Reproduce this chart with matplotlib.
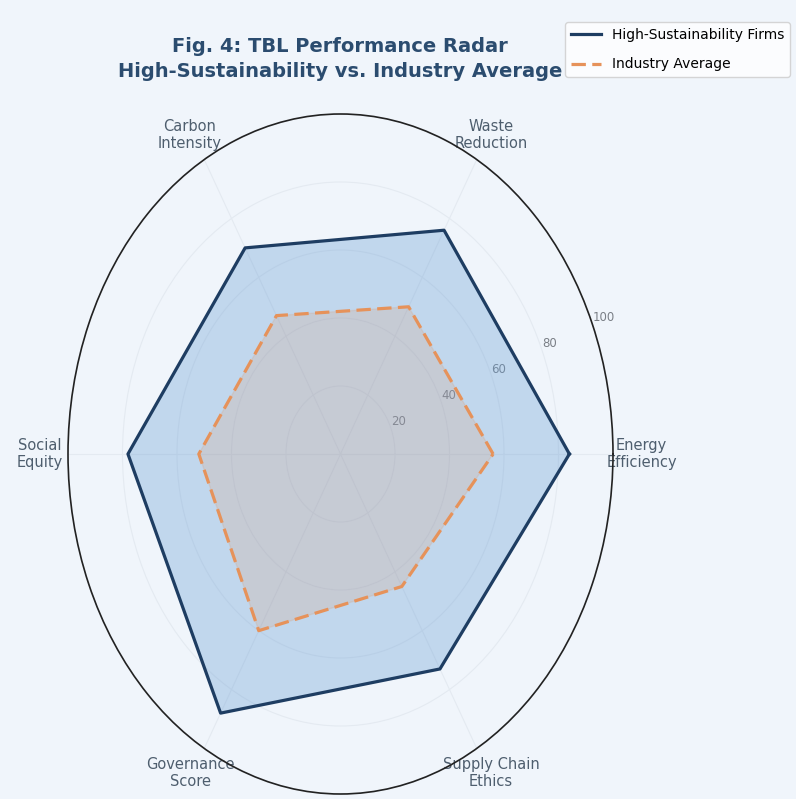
import numpy as np
import matplotlib.pyplot as plt

# Radar data
categories = ['Energy\nEfficiency', 'Waste\nReduction', 'Carbon\nIntensity',
              'Social\nEquity', 'Governance\nScore', 'Supply Chain\nEthics']
high_sustain = [84, 76, 70, 78, 88, 73]
industry_avg = [56, 50, 47, 52, 60, 45]
r_ticks = [20, 40, 60, 80, 100]
series_names = ['High-Sustainability Firms', 'Industry Average']

bg = '#f0f5fb'
navy = '#1e3d62'
orange = '#e6925a'

n = len(categories)
angles = np.linspace(0, 2 * np.pi, n, endpoint=False)
ang_closed = np.concatenate([angles, angles[:1]])
high_closed = np.concatenate([high_sustain, high_sustain[:1]])
ind_closed = np.concatenate([industry_avg, industry_avg[:1]])

fig = plt.figure(figsize=(7.96, 7.99), dpi=100, facecolor=bg)
ax = fig.add_axes([68 / 796, 5 / 799, 545 / 796, 680 / 799], projection='polar')
ax.set_aspect('auto')
ax.set_facecolor(bg)
ax.set_axisbelow(True)

# series
ax.fill(ang_closed, high_closed, color='#6a9fd4', alpha=0.35, zorder=2)
ax.plot(ang_closed, high_closed, color=navy, lw=2.3, label=series_names[0], zorder=4)
ax.fill(ang_closed, ind_closed, color='#e8894a', alpha=0.15, zorder=3)
ax.plot(ang_closed, ind_closed, color=orange, lw=2.3, ls=(0, (4.5, 2)),
        label=series_names[1], zorder=5)

ax.set_ylim(0, 100)
ax.set_yticks(r_ticks)
ax.set_yticklabels([str(t) for t in r_ticks], fontsize=8.5, color='#7a7f86')
ax.set_xticks(angles)
ax.set_xticklabels(categories, fontsize=10.5, color='#4e5e6e')
ax.tick_params(axis='x', pad=10)
ax.grid(color='#e4eaf1', lw=0.8)
ax.spines['polar'].set_color('#222222')
ax.spines['polar'].set_linewidth(1.2)

fig.text(340 / 796, 1 - 59 / 799,
         'Fig. 4: TBL Performance Radar\nHigh-Sustainability vs. Industry Average',
         ha='center', va='center', fontsize=14, fontweight='bold', color='#2b4c6f',
         linespacing=1.4)

fig.legend(loc='upper left', bbox_to_anchor=(558 / 796, 1 - 15 / 799),
           fontsize=10, frameon=True, facecolor='white', edgecolor='#cccccc',
           handlelength=2.2, labelspacing=1.15)

fig.savefig('out.png', dpi=100, facecolor=bg)
